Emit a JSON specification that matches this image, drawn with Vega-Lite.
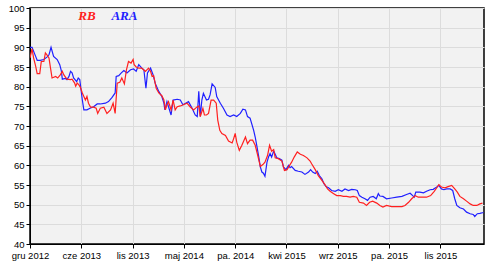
{
  "$schema": "https://vega.github.io/schema/vega-lite/v6.json",
  "width": 454,
  "height": 236,
  "autosize": "none",
  "padding": {"left": 30, "top": 8, "right": 9, "bottom": 20},
  "background": "white",
  "config": {
    "view": {"fill": "#f2f2f2", "stroke": "#000000", "strokeWidth": 1.5},
    "axis": {
      "labelFont": "Liberation Sans",
      "labelFontSize": 9.5,
      "labelColor": "#000000",
      "domainColor": "#000000",
      "tickColor": "#000000",
      "tickSize": 4,
      "gridColor": "#dcdcdc",
      "gridWidth": 1,
      "title": null,
      "labelPadding": 2
    }
  },
  "encoding": {
    "x": {
      "field": "t", "type": "quantitative",
      "scale": {"domain": [0, 885], "nice": false, "zero": false},
      "axis": {
        "values": [0, 100, 200, 300, 400, 500, 600, 700, 800],
        "labelExpr": "['gru 2012','cze 2013','lis 2013','maj 2014','pa. 2014','kwi 2015','wrz 2015','pa. 2015','lis 2015'][round(datum.value/100)]",
        "labelOverlap": false,
        "labelFlush": false
      }
    },
    "y": {
      "field": "v", "type": "quantitative",
      "scale": {"domain": [40, 100], "nice": false, "zero": false},
      "axis": {"values": [40, 45, 50, 55, 60, 65, 70, 75, 80, 85, 90, 95, 100], "labelOverlap": false, "labelFlush": false}
    },
    "color": {
      "field": "s", "type": "nominal",
      "scale": {"domain": ["RB", "ARA"], "range": ["#ff2020", "#2020ff"]},
      "legend": null
    }
  },
  "layer": [
    {
      "data": {"values": [
        {"s":"ARA","t":0,"v":90},{"s":"ARA","t":4,"v":90},{"s":"ARA","t":11,"v":87.7},{"s":"ARA","t":14,"v":86.7},{"s":"ARA","t":20,"v":86.7},{"s":"ARA","t":27,"v":86.9},{"s":"ARA","t":33,"v":87.5},{"s":"ARA","t":37,"v":88.1},{"s":"ARA","t":41,"v":90},{"s":"ARA","t":46,"v":87.7},{"s":"ARA","t":53,"v":86.9},{"s":"ARA","t":58,"v":85.6},{"s":"ARA","t":61,"v":84.1},{"s":"ARA","t":63,"v":81.9},{"s":"ARA","t":69,"v":82.1},{"s":"ARA","t":72,"v":81.8},{"s":"ARA","t":76,"v":82.6},{"s":"ARA","t":79,"v":83.9},{"s":"ARA","t":82,"v":83.5},{"s":"ARA","t":85,"v":82.2},{"s":"ARA","t":91,"v":81.3},{"s":"ARA","t":94,"v":82.2},{"s":"ARA","t":97,"v":81.8},{"s":"ARA","t":102,"v":76.6},{"s":"ARA","t":105,"v":74.1},{"s":"ARA","t":111,"v":74.1},{"s":"ARA","t":117,"v":74.5},{"s":"ARA","t":124,"v":74.9},{"s":"ARA","t":131,"v":75.6},{"s":"ARA","t":137,"v":75.6},{"s":"ARA","t":147,"v":75.8},{"s":"ARA","t":153,"v":76.2},{"s":"ARA","t":160,"v":77.3},{"s":"ARA","t":166,"v":78.4},{"s":"ARA","t":168,"v":82.6},{"s":"ARA","t":173,"v":82.8},{"s":"ARA","t":178,"v":83.5},{"s":"ARA","t":183,"v":84.1},{"s":"ARA","t":189,"v":83.5},{"s":"ARA","t":196,"v":84.3},{"s":"ARA","t":202,"v":84.5},{"s":"ARA","t":207,"v":83.9},{"s":"ARA","t":212,"v":85.6},{"s":"ARA","t":218,"v":84.7},{"s":"ARA","t":222,"v":84.3},{"s":"ARA","t":226,"v":79.6},{"s":"ARA","t":229,"v":83.5},{"s":"ARA","t":235,"v":84.7},{"s":"ARA","t":240,"v":83.0},{"s":"ARA","t":244,"v":80.9},{"s":"ARA","t":251,"v":78.8},{"s":"ARA","t":257,"v":77.5},{"s":"ARA","t":261,"v":75.8},{"s":"ARA","t":263,"v":74.1},{"s":"ARA","t":267,"v":76.2},{"s":"ARA","t":270,"v":74.9},{"s":"ARA","t":275,"v":72.8},{"s":"ARA","t":279,"v":76.6},{"s":"ARA","t":287,"v":76.8},{"s":"ARA","t":293,"v":76.6},{"s":"ARA","t":298,"v":75.4},{"s":"ARA","t":305,"v":75.9},{"s":"ARA","t":309,"v":76.2},{"s":"ARA","t":316,"v":74.5},{"s":"ARA","t":322,"v":72.8},{"s":"ARA","t":326,"v":72.4},{"s":"ARA","t":329,"v":78.8},{"s":"ARA","t":332,"v":72.4},{"s":"ARA","t":335,"v":76.6},{"s":"ARA","t":338,"v":78.3},{"s":"ARA","t":344,"v":76.6},{"s":"ARA","t":348,"v":76.8},{"s":"ARA","t":351,"v":77.9},{"s":"ARA","t":355,"v":80.7},{"s":"ARA","t":361,"v":79.8},{"s":"ARA","t":364,"v":77.5},{"s":"ARA","t":371,"v":75.8},{"s":"ARA","t":377,"v":74.5},{"s":"ARA","t":384,"v":72.8},{"s":"ARA","t":390,"v":72.4},{"s":"ARA","t":397,"v":72.8},{"s":"ARA","t":403,"v":72.4},{"s":"ARA","t":410,"v":73.2},{"s":"ARA","t":415,"v":74.3},{"s":"ARA","t":420,"v":74.1},{"s":"ARA","t":424,"v":72.4},{"s":"ARA","t":429,"v":72.0},{"s":"ARA","t":436,"v":68.9},{"s":"ARA","t":439,"v":67.2},{"s":"ARA","t":442,"v":65.1},{"s":"ARA","t":446,"v":62.1},{"s":"ARA","t":449,"v":59.6},{"s":"ARA","t":452,"v":58.3},{"s":"ARA","t":455,"v":58.0},{"s":"ARA","t":458,"v":57.2},{"s":"ARA","t":462,"v":60.8},{"s":"ARA","t":465,"v":62.1},{"s":"ARA","t":468,"v":63.0},{"s":"ARA","t":471,"v":62.1},{"s":"ARA","t":475,"v":63.6},{"s":"ARA","t":478,"v":62.8},{"s":"ARA","t":481,"v":61.9},{"s":"ARA","t":486,"v":61.7},{"s":"ARA","t":491,"v":61.3},{"s":"ARA","t":494,"v":59.6},{"s":"ARA","t":499,"v":58.9},{"s":"ARA","t":504,"v":60.0},{"s":"ARA","t":507,"v":59.4},{"s":"ARA","t":510,"v":59.7},{"s":"ARA","t":517,"v":58.7},{"s":"ARA","t":523,"v":58.5},{"s":"ARA","t":530,"v":58.3},{"s":"ARA","t":536,"v":57.7},{"s":"ARA","t":543,"v":58.3},{"s":"ARA","t":547,"v":58.9},{"s":"ARA","t":551,"v":58.3},{"s":"ARA","t":556,"v":57.9},{"s":"ARA","t":560,"v":58.5},{"s":"ARA","t":564,"v":57.4},{"s":"ARA","t":569,"v":56.6},{"s":"ARA","t":573,"v":55.3},{"s":"ARA","t":577,"v":54.6},{"s":"ARA","t":582,"v":54.3},{"s":"ARA","t":588,"v":53.6},{"s":"ARA","t":595,"v":53.4},{"s":"ARA","t":601,"v":53.8},{"s":"ARA","t":608,"v":53.4},{"s":"ARA","t":614,"v":54.0},{"s":"ARA","t":621,"v":53.6},{"s":"ARA","t":627,"v":53.9},{"s":"ARA","t":634,"v":53.8},{"s":"ARA","t":638,"v":53.6},{"s":"ARA","t":642,"v":52.3},{"s":"ARA","t":647,"v":51.9},{"s":"ARA","t":653,"v":51.5},{"s":"ARA","t":658,"v":51.1},{"s":"ARA","t":663,"v":51.9},{"s":"ARA","t":669,"v":52.1},{"s":"ARA","t":675,"v":51.5},{"s":"ARA","t":679,"v":52.8},{"s":"ARA","t":682,"v":52.2},{"s":"ARA","t":688,"v":52.1},{"s":"ARA","t":695,"v":51.5},{"s":"ARA","t":705,"v":51.7},{"s":"ARA","t":715,"v":51.9},{"s":"ARA","t":725,"v":52.1},{"s":"ARA","t":734,"v":52.6},{"s":"ARA","t":741,"v":52.9},{"s":"ARA","t":746,"v":52.3},{"s":"ARA","t":749,"v":51.9},{"s":"ARA","t":752,"v":53.2},{"s":"ARA","t":760,"v":53.2},{"s":"ARA","t":767,"v":53.0},{"s":"ARA","t":773,"v":53.4},{"s":"ARA","t":780,"v":53.8},{"s":"ARA","t":786,"v":53.9},{"s":"ARA","t":793,"v":54.5},{"s":"ARA","t":797,"v":54.9},{"s":"ARA","t":802,"v":54.0},{"s":"ARA","t":807,"v":53.8},{"s":"ARA","t":812,"v":54.0},{"s":"ARA","t":819,"v":54.0},{"s":"ARA","t":824,"v":53.6},{"s":"ARA","t":828,"v":51.5},{"s":"ARA","t":832,"v":49.8},{"s":"ARA","t":838,"v":49.2},{"s":"ARA","t":845,"v":48.9},{"s":"ARA","t":851,"v":48.1},{"s":"ARA","t":858,"v":47.7},{"s":"ARA","t":864,"v":47.5},{"s":"ARA","t":867,"v":47.0},{"s":"ARA","t":872,"v":47.7},{"s":"ARA","t":877,"v":47.8},{"s":"ARA","t":884,"v":48.0},
        {"s":"RB","t":0,"v":87.3},{"s":"RB","t":4,"v":89.6},{"s":"RB","t":7,"v":87.3},{"s":"RB","t":11,"v":85.2},{"s":"RB","t":14,"v":83.3},{"s":"RB","t":19,"v":83.3},{"s":"RB","t":22,"v":86.4},{"s":"RB","t":27,"v":86.4},{"s":"RB","t":30,"v":88.6},{"s":"RB","t":33,"v":88.1},{"s":"RB","t":37,"v":87.3},{"s":"RB","t":40,"v":84.7},{"s":"RB","t":43,"v":82.2},{"s":"RB","t":50,"v":82.6},{"s":"RB","t":54,"v":82.2},{"s":"RB","t":59,"v":83.0},{"s":"RB","t":63,"v":83.9},{"s":"RB","t":66,"v":83.0},{"s":"RB","t":72,"v":81.9},{"s":"RB","t":79,"v":81.8},{"s":"RB","t":82,"v":81.9},{"s":"RB","t":87,"v":80.9},{"s":"RB","t":89,"v":80.1},{"s":"RB","t":92,"v":80.9},{"s":"RB","t":95,"v":80.5},{"s":"RB","t":98,"v":79.9},{"s":"RB","t":102,"v":78.4},{"s":"RB","t":105,"v":77.5},{"s":"RB","t":108,"v":76.6},{"s":"RB","t":111,"v":77.5},{"s":"RB","t":114,"v":75.8},{"s":"RB","t":118,"v":74.8},{"s":"RB","t":124,"v":74.8},{"s":"RB","t":129,"v":74.5},{"s":"RB","t":132,"v":73.2},{"s":"RB","t":137,"v":74.5},{"s":"RB","t":144,"v":74.8},{"s":"RB","t":150,"v":73.2},{"s":"RB","t":157,"v":74.1},{"s":"RB","t":162,"v":75.8},{"s":"RB","t":166,"v":73.2},{"s":"RB","t":170,"v":80.9},{"s":"RB","t":175,"v":81.1},{"s":"RB","t":179,"v":82.2},{"s":"RB","t":184,"v":80.7},{"s":"RB","t":188,"v":84.3},{"s":"RB","t":192,"v":86.4},{"s":"RB","t":197,"v":86.0},{"s":"RB","t":201,"v":86.9},{"s":"RB","t":203,"v":85.6},{"s":"RB","t":207,"v":85.0},{"s":"RB","t":212,"v":84.7},{"s":"RB","t":218,"v":84.7},{"s":"RB","t":225,"v":83.9},{"s":"RB","t":231,"v":84.7},{"s":"RB","t":235,"v":83.9},{"s":"RB","t":238,"v":82.6},{"s":"RB","t":241,"v":82.8},{"s":"RB","t":246,"v":79.6},{"s":"RB","t":251,"v":78.4},{"s":"RB","t":257,"v":77.7},{"s":"RB","t":261,"v":76.6},{"s":"RB","t":264,"v":74.1},{"s":"RB","t":267,"v":75.4},{"s":"RB","t":270,"v":76.2},{"s":"RB","t":275,"v":74.1},{"s":"RB","t":279,"v":76.6},{"s":"RB","t":283,"v":74.1},{"s":"RB","t":287,"v":74.9},{"s":"RB","t":293,"v":75.1},{"s":"RB","t":299,"v":75.4},{"s":"RB","t":306,"v":75.8},{"s":"RB","t":312,"v":74.9},{"s":"RB","t":319,"v":74.1},{"s":"RB","t":325,"v":74.8},{"s":"RB","t":329,"v":75.1},{"s":"RB","t":332,"v":72.4},{"s":"RB","t":337,"v":74.5},{"s":"RB","t":340,"v":72.8},{"s":"RB","t":344,"v":72.8},{"s":"RB","t":348,"v":73.2},{"s":"RB","t":353,"v":76.6},{"s":"RB","t":358,"v":76.6},{"s":"RB","t":363,"v":75.8},{"s":"RB","t":366,"v":71.5},{"s":"RB","t":370,"v":68.9},{"s":"RB","t":374,"v":68.1},{"s":"RB","t":381,"v":67.6},{"s":"RB","t":387,"v":66.2},{"s":"RB","t":394,"v":65.7},{"s":"RB","t":397,"v":66.8},{"s":"RB","t":400,"v":68.1},{"s":"RB","t":403,"v":65.9},{"s":"RB","t":408,"v":63.8},{"s":"RB","t":413,"v":65.1},{"s":"RB","t":420,"v":67.2},{"s":"RB","t":424,"v":65.5},{"s":"RB","t":429,"v":66.4},{"s":"RB","t":434,"v":66.4},{"s":"RB","t":439,"v":65.1},{"s":"RB","t":444,"v":62.5},{"s":"RB","t":449,"v":59.7},{"s":"RB","t":454,"v":60.2},{"s":"RB","t":458,"v":60.8},{"s":"RB","t":463,"v":62.5},{"s":"RB","t":467,"v":65.1},{"s":"RB","t":471,"v":63.6},{"s":"RB","t":475,"v":64.0},{"s":"RB","t":478,"v":61.9},{"s":"RB","t":484,"v":61.7},{"s":"RB","t":491,"v":61.1},{"s":"RB","t":496,"v":58.7},{"s":"RB","t":501,"v":58.9},{"s":"RB","t":506,"v":60.0},{"s":"RB","t":510,"v":60.8},{"s":"RB","t":515,"v":62.1},{"s":"RB","t":521,"v":63.4},{"s":"RB","t":527,"v":62.8},{"s":"RB","t":533,"v":62.5},{"s":"RB","t":540,"v":61.9},{"s":"RB","t":546,"v":61.1},{"s":"RB","t":549,"v":60.4},{"s":"RB","t":556,"v":58.9},{"s":"RB","t":562,"v":57.4},{"s":"RB","t":569,"v":56.2},{"s":"RB","t":575,"v":55.1},{"s":"RB","t":580,"v":54.0},{"s":"RB","t":585,"v":53.4},{"s":"RB","t":592,"v":52.8},{"s":"RB","t":598,"v":52.3},{"s":"RB","t":605,"v":52.3},{"s":"RB","t":611,"v":52.1},{"s":"RB","t":617,"v":52.1},{"s":"RB","t":624,"v":51.9},{"s":"RB","t":630,"v":52.1},{"s":"RB","t":637,"v":51.9},{"s":"RB","t":642,"v":50.6},{"s":"RB","t":650,"v":50.4},{"s":"RB","t":656,"v":49.8},{"s":"RB","t":662,"v":50.6},{"s":"RB","t":668,"v":50.9},{"s":"RB","t":676,"v":50.4},{"s":"RB","t":682,"v":49.8},{"s":"RB","t":688,"v":49.4},{"s":"RB","t":695,"v":49.8},{"s":"RB","t":705,"v":49.5},{"s":"RB","t":715,"v":49.5},{"s":"RB","t":725,"v":49.5},{"s":"RB","t":731,"v":49.8},{"s":"RB","t":738,"v":50.6},{"s":"RB","t":744,"v":51.5},{"s":"RB","t":751,"v":52.3},{"s":"RB","t":757,"v":51.9},{"s":"RB","t":764,"v":51.9},{"s":"RB","t":773,"v":51.9},{"s":"RB","t":781,"v":52.3},{"s":"RB","t":788,"v":53.4},{"s":"RB","t":793,"v":54.3},{"s":"RB","t":797,"v":55.1},{"s":"RB","t":802,"v":54.5},{"s":"RB","t":809,"v":54.3},{"s":"RB","t":815,"v":54.6},{"s":"RB","t":822,"v":54.9},{"s":"RB","t":828,"v":54.0},{"s":"RB","t":833,"v":53.2},{"s":"RB","t":838,"v":52.1},{"s":"RB","t":845,"v":51.5},{"s":"RB","t":851,"v":50.9},{"s":"RB","t":858,"v":50.2},{"s":"RB","t":864,"v":49.8},{"s":"RB","t":871,"v":49.8},{"s":"RB","t":877,"v":50.2},{"s":"RB","t":882,"v":50.4}
      ]},
      "mark": {"type": "line", "strokeWidth": 1.2, "clip": true},
      "encoding": {"detail": {"field": "s"}}
    },
    {
      "data": {"values": [
        {"s": "RB", "t": 111, "v": 98},
        {"s": "ARA", "t": 184, "v": 98}
      ]},
      "mark": {"type": "text", "font": "Liberation Serif", "fontSize": 13, "fontWeight": "bold", "fontStyle": "italic", "baseline": "middle", "align": "center"},
      "encoding": {"text": {"field": "s"}}
    }
  ]
}
